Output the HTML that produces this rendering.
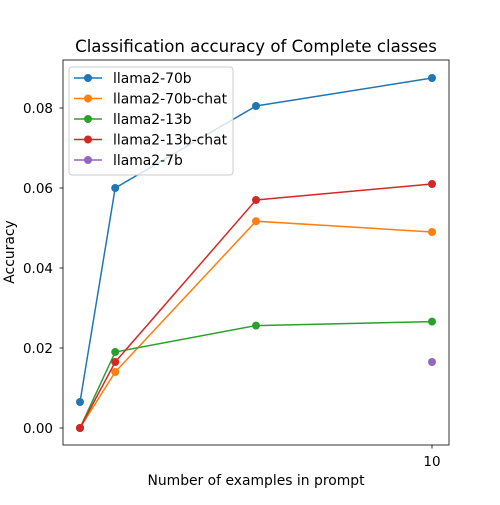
<!DOCTYPE html>
<html><head><meta charset="utf-8"><style>
body{margin:0;background:#fff}
svg text{font-family:"DejaVu Sans","Liberation Sans",sans-serif;fill:#000}
</style></head><body>
<svg id="chart" width="500" height="500" viewBox="0 0 500 500">
<rect x="0" y="0" width="500" height="500" fill="#fff"/>
<text x="256" y="52" font-size="16.6" text-anchor="middle">Classification accuracy of Complete classes</text>
<g id="plot"></g>
<rect x="63" y="60" width="386" height="385" fill="none" stroke="#000" stroke-width="0.8"/>
<text x="256" y="485" font-size="13.9" text-anchor="middle">Number of examples in prompt</text>
<text transform="translate(14,252) rotate(-90)" font-size="13.9" text-anchor="middle">Accuracy</text>
</svg>
<script>
const xValues=[0,1,5,10];
const seriesNames=["llama2-70b","llama2-70b-chat","llama2-13b","llama2-13b-chat","llama2-7b"];
const colors=["#1f77b4","#ff7f0e","#2ca02c","#d62728","#9467bd"];
const s70b=[0.0065,0.060,0.0805,0.0875];
const s70bChat=[0,0.014,0.0517,0.049];
const s13b=[0,0.019,0.0256,0.0266];
const s13bChat=[0,0.0165,0.057,0.061];
const s7b=[null,null,null,0.0165];
const yTicks=[0,0.02,0.04,0.06,0.08];
const yTickLabels=["0.00","0.02","0.04","0.06","0.08"];
const xTicks=[10];
const xTickLabels=["10"];
const allSeries=[s70b,s70bChat,s13b,s13bChat,s7b];
const NS="http://www.w3.org/2000/svg";
const xs=v=>80+v*35.2;
const ys=v=>428-v*4000;
const g=document.getElementById('plot');
function mk(t,a){const e=document.createElementNS(NS,t);for(const k in a)e.setAttribute(k,a[k]);g.appendChild(e);return e;}
yTicks.forEach((t,i)=>{
 const l=mk('line',{x1:59.5,x2:63,y1:ys(t),y2:ys(t),stroke:'#000','stroke-width':0.8});
 
 
 const tx=mk('text',{x:53,y:ys(t)+5,'font-size':13.5,'text-anchor':'end'});tx.textContent=yTickLabels[i];
 
 
});
xTicks.forEach((t,i)=>{
 const l=mk('line',{x1:xs(t),x2:xs(t),y1:445,y2:448.5,stroke:'#000','stroke-width':0.8});
 
 
 const tx=mk('text',{x:xs(t),y:466,'font-size':13.5,'text-anchor':'middle'});tx.textContent=xTickLabels[i];
 
 
});
allSeries.forEach((s,si)=>{
 const pts=[];s.forEach((v,i)=>{if(v!==null)pts.push([xs(xValues[i]),ys(v)]);});
 if(pts.length>1){const p=mk('polyline',{points:pts.map(p=>p.join(',')).join(' '),fill:'none',stroke:colors[si],'stroke-width':1.5});
  
  }
 pts.forEach(p=>{const c=mk('circle',{cx:p[0],cy:p[1],r:4,fill:colors[si]});
  
  });
});
const lg=mk('rect',{x:69,y:67,width:164,height:108,rx:3,fill:'#fff','fill-opacity':0.8,stroke:'#ccc'});


seriesNames.forEach((n,i)=>{
 const y=78+i*20.5;
 const l=mk('line',{x1:74,x2:102,y1:y,y2:y,stroke:colors[i],'stroke-width':1.5});
 
 
 const c=mk('circle',{cx:88,cy:y,r:4,fill:colors[i]});
 
 
 const t=mk('text',{x:113,y:y+5,'font-size':13.9});t.textContent=n;
 
 
});
</script>
</body></html>
